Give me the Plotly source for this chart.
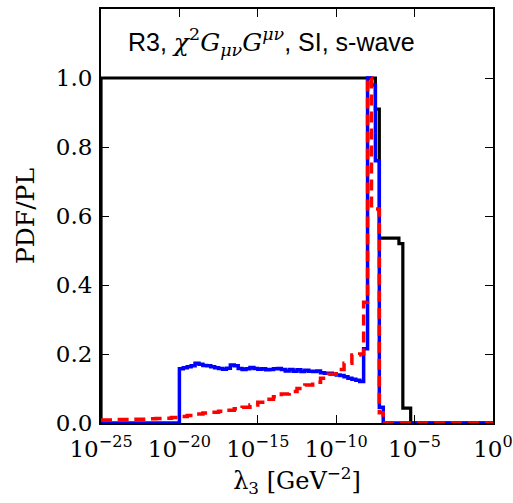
import numpy as np
import plotly.graph_objects as go

# ---- data (log10 of lambda_3 left bin edges, and PDF/PL values) ----
black_logx = [-25, -25, -7.5, -7.25, -6.0, -5.75, -5.25, 0]
black_y = [0.0, 1.0, 0.91, 0.536, 0.52, 0.043, 0.0, 0.0]

blue_cont = [0.157, 0.160, 0.163, 0.166, 0.173, 0.170, 0.167, 0.166, 0.163, 0.160,
             0.158, 0.156, 0.159, 0.168, 0.166, 0.158, 0.155, 0.157, 0.161, 0.158,
             0.156, 0.157, 0.154, 0.155, 0.157, 0.158, 0.155, 0.151, 0.155, 0.150,
             0.154, 0.149, 0.153, 0.150, 0.149, 0.151, 0.146, 0.144, 0.144, 0.141,
             0.139, 0.138, 0.134, 0.130, 0.127, 0.124, 0.120, 0.215]
blue_cont_logx = [-20 + 0.25 * i for i in range(len(blue_cont))]
blue_logx = [-25] + blue_cont_logx + [-8.0, -7.75, -7.5, -7.25, -7.0, 0]
blue_y = [0.0] + blue_cont + [1.0, 0.98, 0.76, 0.046, 0.0, 0.0]

red_cont = [0.009, 0.009, 0.010, 0.010, 0.011, 0.011, 0.012, 0.013, 0.014, 0.016,
            0.019, 0.022, 0.026, 0.029, 0.031, 0.034, 0.037, 0.041, 0.046, 0.052,
            0.060, 0.069, 0.076, 0.084, 0.091, 0.100, 0.110, 0.118, 0.130, 0.141,
            0.155, 0.173, 0.197]
red_cont_logx = [-25 + 0.5 * i for i in range(len(red_cont))]
red_logx = red_cont_logx + [-8.5, -8.25, -8.0, -7.75, -7.25, -7.0, 0]
red_y = red_cont + [0.20, 0.35, 1.0, 0.62, 0.03, 0.0, 0.0]

x_tick_exp = [-25, -20, -15, -10, -5, 0]
y_ticks = [0.0, 0.2, 0.4, 0.6, 0.8, 1.0]

SERIF = "DejaVu Serif"

fig = go.Figure()
fig.add_trace(go.Scatter(x=[10.0 ** v for v in black_logx], y=black_y, mode="lines",
                         line=dict(color="black", width=3.2, shape="hv"), showlegend=False))
fig.add_trace(go.Scatter(x=[10.0 ** v for v in blue_logx], y=blue_y, mode="lines",
                         line=dict(color="#0000ff", width=3.5, shape="hv"), showlegend=False))
fig.add_trace(go.Scatter(x=[10.0 ** v for v in red_logx], y=red_y, mode="lines",
                         line=dict(color="#ff0000", width=3.5, shape="hv", dash="11px,6px"),
                         showlegend=False))

axis_common = dict(showline=True, linecolor="black", linewidth=2, mirror="ticks",
                   ticks="inside", ticklen=8, tickwidth=1.2, tickcolor="black",
                   showgrid=False, zeroline=False,
                   tickfont=dict(family=SERIF, size=23, color="black"))

fig.update_xaxes(type="log", range=[-25, 0],
                 tickvals=[10.0 ** e for e in x_tick_exp],
                 ticktext=["10<sup>\u2212%d</sup>" % (-e) if e < 0 else "10<sup>0</sup>" for e in x_tick_exp],
                 ticklabelstandoff=4,
                 title=dict(text="\u03bb<sub>3</sub> [GeV<sup>\u22122</sup>]",
                            font=dict(family=SERIF, size=24, color="black"), standoff=12),
                 **axis_common)
fig.update_yaxes(range=[0, 1.2], tickvals=y_ticks, ticktext=["%.1f" % v for v in y_ticks],
                 ticklabelstandoff=2,
                 title=dict(text="PDF/PL", font=dict(family=SERIF, size=25, color="black"),
                            standoff=14),
                 **axis_common)

fig.add_annotation(
    x=0.063, y=0.92, xref="paper", yref="paper", xanchor="left", yanchor="middle",
    showarrow=False,
    text="R3, <span style='font-family:DejaVu Serif'><i>\u03c7</i><sup>2</sup><i>G</i>"
         "<sub><i>\u03bc\u03bd</i></sub><i>G</i><sup><i>\u03bc\u03bd</i></sup></span>, SI, s-wave",
    font=dict(family="Liberation Sans", size=25, color="black"))

fig.update_layout(width=513, height=503, margin=dict(l=101, r=20, t=9, b=80, autoexpand=False),
                  paper_bgcolor="white", plot_bgcolor="white")
fig.write_html("out.html", config={"displayModeBar": False},
               post_script="document.body.style.margin='0';"
                           "document.documentElement.style.overflow='hidden';"
                           "document.body.style.overflow='hidden';")
